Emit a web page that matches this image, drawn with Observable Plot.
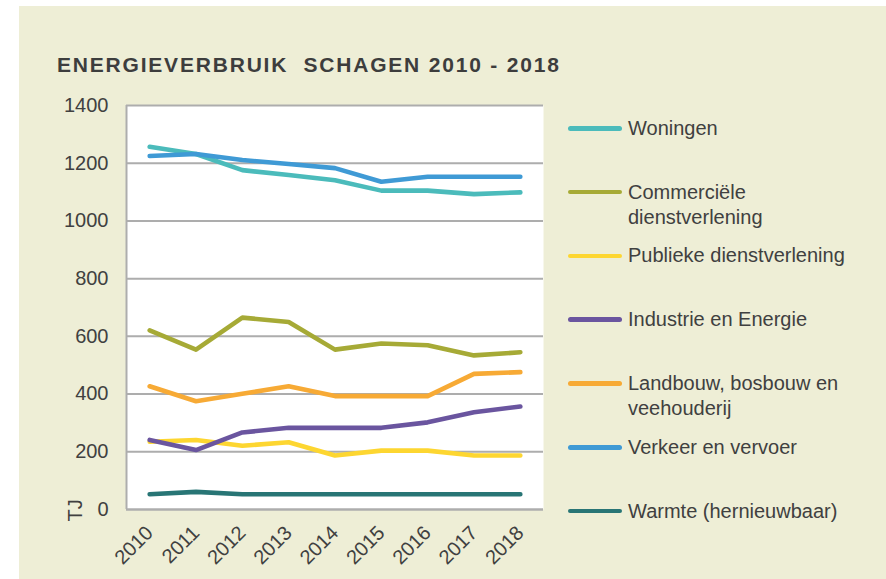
<!DOCTYPE html>
<html>
<head>
<meta charset="utf-8">
<script src="https://cdn.jsdelivr.net/npm/d3@7"></script>
<script src="https://cdn.jsdelivr.net/npm/@observablehq/plot@0.6"></script>
<style>
  html, body { margin: 0; padding: 0; background: #ffffff; }
  #wrap { position: relative; width: 886px; height: 579px; overflow: hidden; }
  #bg { position: absolute; left: 19px; top: 6px; right: 0; bottom: 0; background: #EEEED6; }
  #title { position: absolute; left: 57px; top: 54px; font-family: "Liberation Sans", Arial, sans-serif; font-weight: bold;
           font-size: 21px; line-height: 21px; letter-spacing: 1.8px; color: #3d3d3d; white-space: pre; }
  #chart { position: absolute; left: 0; top: 0; }
  #legend { position: absolute; left: 568px; top: 115.8px; font-family: "Liberation Sans", Arial, sans-serif;
            font-size: 20px; color: #404040; }
  .item { position: relative; height: 63.8px; }
  .sw { position: absolute; left: 0; top: 10.2px; width: 54px; height: 4.6px; border-radius: 3px; }
  .lb { position: absolute; left: 60px; top: 0; line-height: 25px; white-space: nowrap; }
</style>
</head>
<body>
<div id="wrap">
  <div id="bg"></div>
  <div id="chart"></div>
  <div id="title"></div>
  <div id="legend"></div>
</div>
<script>
const years = [2010, 2011, 2012, 2013, 2014, 2015, 2016, 2017, 2018];
const woningen    = [1257, 1232, 1176, 1159, 1141, 1105, 1105, 1093, 1099];
const commercieel = [621, 554, 665, 650, 554, 575, 569, 534, 545];
const publiek     = [235, 241, 221, 233, 187, 204, 204, 187, 187];
const industrie   = [241, 206, 267, 283, 283, 283, 302, 337, 357];
const landbouw    = [427, 375, 401, 427, 393, 393, 393, 470, 476];
const verkeer     = [1225, 1232, 1211, 1197, 1183, 1136, 1153, 1153, 1153];
const warmte      = [53, 61, 53, 53, 53, 53, 53, 53, 53];

const categories = [
  "Woningen",
  "Commerciële dienstverlening",
  "Publieke dienstverlening",
  "Industrie en Energie",
  "Landbouw, bosbouw en veehouderij",
  "Verkeer en vervoer",
  "Warmte (hernieuwbaar)"
];
const legendLines = [
  ["Woningen"],
  ["Commerciële", "dienstverlening"],
  ["Publieke dienstverlening"],
  ["Industrie en Energie"],
  ["Landbouw, bosbouw en", "veehouderij"],
  ["Verkeer en vervoer"],
  ["Warmte (hernieuwbaar)"]
];
const colors = ["#4BBBBB", "#A6AA36", "#FDD631", "#6A559F", "#F7AA35", "#3F9AD5", "#287575"];
const yTicks = [0, 200, 400, 600, 800, 1000, 1200, 1400];
const titleText = "ENERGIEVERBRUIK  SCHAGEN 2010 - 2018";
const yUnit = "TJ";

const series = [woningen, commercieel, publiek, industrie, landbouw, verkeer, warmte];
const rows = categories.flatMap((c, i) => years.map((yr, j) => ({cat: c, year: yr, value: series[i][j]})));

const gridColor = "#ADADAD";
const xMin = years[0] - 0.5, xMax = years[years.length - 1] + 0.5;

const chart = Plot.plot({
  width: 886,
  height: 579,
  marginLeft: 126,
  marginRight: 343,
  marginTop: 105,
  marginBottom: 70,
  style: {fontFamily: "'Liberation Sans', Arial, sans-serif", fontSize: "20px", color: "#404040", background: "transparent"},
  x: {type: "linear", domain: [xMin, xMax]},
  y: {domain: [0, 1400]},
  color: {domain: categories, range: colors},
  marks: [
    Plot.frame({fill: "white", stroke: "none"}),
    Plot.gridY(yTicks, {stroke: gridColor, strokeOpacity: 1, strokeWidth: 2}),
    Plot.ruleX([xMin], {stroke: gridColor, strokeWidth: 2}),
    Plot.ruleY([0], {stroke: gridColor, strokeWidth: 2}),
    Plot.axisY(yTicks, {tickSize: 0, tickPadding: 18, tickFormat: d => String(d), label: null, fontSize: 20, fill: "#404040"}),
    Plot.axisX(years, {tickSize: 0, tickRotate: -45, tickPadding: 20, tickFormat: d => String(d), label: null, fontSize: 20, fill: "#404040"}),
    Plot.line(rows, {x: "year", y: "value", z: "cat", stroke: "cat", strokeWidth: 4.6, strokeLinecap: "round", strokeLinejoin: "round"}),
    Plot.text([yUnit], {frameAnchor: "bottom-left", dx: -45, dy: 12, rotate: -90, textAnchor: "start", fontSize: 20, fill: "#404040"})
  ]
});
document.getElementById("chart").appendChild(chart);

document.getElementById("title").textContent = titleText;

const legend = document.getElementById("legend");
categories.forEach((c, i) => {
  const item = document.createElement("div");
  item.className = "item";
  const sw = document.createElement("div");
  sw.className = "sw";
  sw.style.background = colors[i];
  const lb = document.createElement("div");
  lb.className = "lb";
  legendLines[i].forEach((t) => {
    const line = document.createElement("div");
    line.textContent = t;
    lb.appendChild(line);
  });
  item.appendChild(sw);
  item.appendChild(lb);
  legend.appendChild(item);
});
</script>
</body>
</html>
